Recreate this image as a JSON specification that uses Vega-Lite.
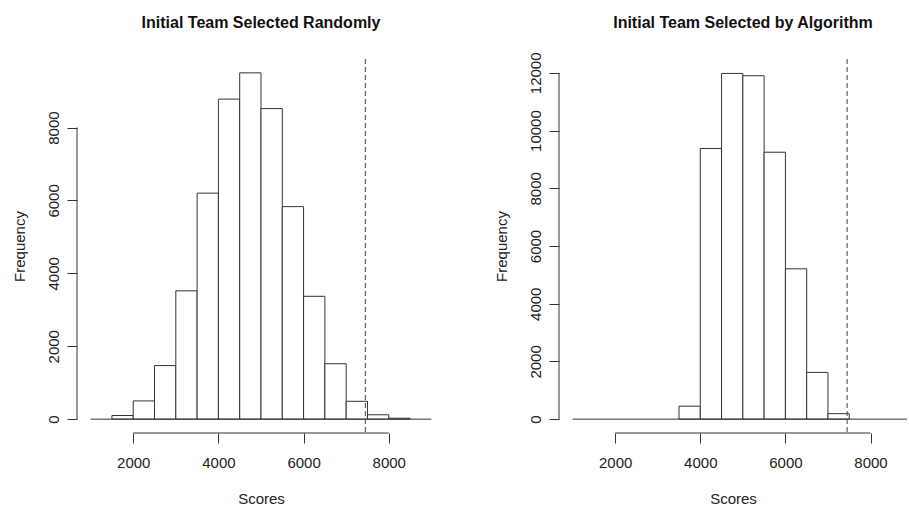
{
  "$schema": "https://vega.github.io/schema/vega-lite/v6.json",
  "background": "white",
  "padding": {"left": 12, "top": 15, "right": 0, "bottom": 0},
  "spacing": 114,
  "bounds": "flush",
  "config": {
    "font": "Liberation Sans",
    "view": {"stroke": null},
    "axis": {
      "domain": false,
      "grid": false,
      "tickSize": 10,
      "tickColor": "#333333",
      "tickWidth": 1,
      "labelFontSize": 15,
      "labelColor": "#222222",
      "labelFont": "Liberation Sans",
      "titleFont": "Liberation Sans",
      "titleFontSize": 15,
      "titleFontWeight": "normal",
      "titleColor": "#222222"
    },
    "axisX": {"labelPadding": 12, "titlePadding": 21},
    "axisY": {"labelAngle": -90, "labelAlign": "center", "labelBaseline": "alphabetic", "labelPadding": 9, "titlePadding": 19},
    "title": {"font": "Liberation Sans", "fontSize": 16, "fontWeight": "bold", "color": "#111111", "offset": 27.5, "frame": "group"}
  },
  "datasets": {
    "random": [
      {"bin_start": 1500, "bin_end": 2000, "count": 100},
      {"bin_start": 2000, "bin_end": 2500, "count": 500},
      {"bin_start": 2500, "bin_end": 3000, "count": 1470},
      {"bin_start": 3000, "bin_end": 3500, "count": 3520},
      {"bin_start": 3500, "bin_end": 4000, "count": 6200},
      {"bin_start": 4000, "bin_end": 4500, "count": 8780},
      {"bin_start": 4500, "bin_end": 5000, "count": 9500},
      {"bin_start": 5000, "bin_end": 5500, "count": 8520},
      {"bin_start": 5500, "bin_end": 6000, "count": 5830},
      {"bin_start": 6000, "bin_end": 6500, "count": 3370},
      {"bin_start": 6500, "bin_end": 7000, "count": 1520},
      {"bin_start": 7000, "bin_end": 7500, "count": 490},
      {"bin_start": 7500, "bin_end": 8000, "count": 120},
      {"bin_start": 8000, "bin_end": 8500, "count": 25}
    ],
    "algorithm": [
      {"bin_start": 3500, "bin_end": 4000, "count": 450},
      {"bin_start": 4000, "bin_end": 4500, "count": 9380},
      {"bin_start": 4500, "bin_end": 5000, "count": 11980},
      {"bin_start": 5000, "bin_end": 5500, "count": 11900},
      {"bin_start": 5500, "bin_end": 6000, "count": 9250},
      {"bin_start": 6000, "bin_end": 6500, "count": 5210},
      {"bin_start": 6500, "bin_end": 7000, "count": 1620},
      {"bin_start": 7000, "bin_end": 7500, "count": 190}
    ]
  },
  "hconcat": [
    {
      "width": 368,
      "height": 374,
      "title": {"text": "Initial Team Selected Randomly"},
      "layer": [
        {
          "data": {"name": "random"},
          "mark": {"type": "rect", "fill": "white", "stroke": "#333333", "strokeWidth": 1},
          "encoding": {
            "x": {"field": "bin_start", "type": "quantitative", "scale": {"domain": [680, 9320], "nice": false, "zero": false},
                  "axis": {"values": [2000, 4000, 6000, 8000], "title": "Scores", "format": "d"}},
            "x2": {"field": "bin_end"},
            "y": {"field": "count", "type": "quantitative", "scale": {"domain": [-380, 9880], "nice": false, "zero": false},
                  "axis": {"values": [0, 2000, 4000, 6000, 8000], "title": "Frequency", "format": "d"}},
            "y2": {"datum": 0}
          }
        },
        {
          "data": {"values": [{}]},
          "mark": {"type": "rule", "stroke": "#333333", "strokeWidth": 1},
          "encoding": {"x": {"datum": 1000}, "x2": {"datum": 9000}, "y": {"datum": 0}}
        },
        {
          "data": {"values": [{}]},
          "mark": {"type": "rule", "stroke": "#333333", "strokeWidth": 1},
          "encoding": {"x": {"datum": 2000}, "x2": {"datum": 8000}, "y": {"datum": -380}}
        },
        {
          "data": {"values": [{}]},
          "mark": {"type": "rule", "stroke": "#333333", "strokeWidth": 1},
          "encoding": {"x": {"datum": 680}, "y": {"datum": 0}, "y2": {"datum": 8000}}
        },
        {
          "data": {"values": [{}]},
          "mark": {"type": "rule", "stroke": "#444444", "strokeWidth": 1, "strokeDash": [5, 3]},
          "encoding": {"x": {"datum": 7450}}
        }
      ]
    },
    {
      "width": 348,
      "height": 374,
      "title": {"text": "Initial Team Selected by Algorithm", "dx": 10, "offset": 20.5},
      "layer": [
        {
          "data": {"name": "algorithm"},
          "mark": {"type": "rect", "fill": "white", "stroke": "#333333", "strokeWidth": 1},
          "encoding": {
            "x": {"field": "bin_start", "type": "quantitative", "scale": {"domain": [680, 8857], "nice": false, "zero": false},
                  "axis": {"values": [2000, 4000, 6000, 8000], "title": "Scores", "format": "d"}},
            "x2": {"field": "bin_end"},
            "y": {"field": "count", "type": "quantitative", "scale": {"domain": [-480, 12480], "nice": false, "zero": false},
                  "axis": {"values": [0, 2000, 4000, 6000, 8000, 10000, 12000], "title": "Frequency", "format": "d"}},
            "y2": {"datum": 0}
          }
        },
        {
          "data": {"values": [{}]},
          "mark": {"type": "rule", "stroke": "#333333", "strokeWidth": 1, "clip": true},
          "encoding": {"x": {"datum": 1000}, "x2": {"datum": 9000}, "y": {"datum": 0}}
        },
        {
          "data": {"values": [{}]},
          "mark": {"type": "rule", "stroke": "#333333", "strokeWidth": 1},
          "encoding": {"x": {"datum": 2000}, "x2": {"datum": 8000}, "y": {"datum": -480}}
        },
        {
          "data": {"values": [{}]},
          "mark": {"type": "rule", "stroke": "#333333", "strokeWidth": 1},
          "encoding": {"x": {"datum": 680}, "y": {"datum": 0}, "y2": {"datum": 12000}}
        },
        {
          "data": {"values": [{}]},
          "mark": {"type": "rule", "stroke": "#444444", "strokeWidth": 1, "strokeDash": [5, 3]},
          "encoding": {"x": {"datum": 7450}}
        }
      ]
    }
  ]
}
